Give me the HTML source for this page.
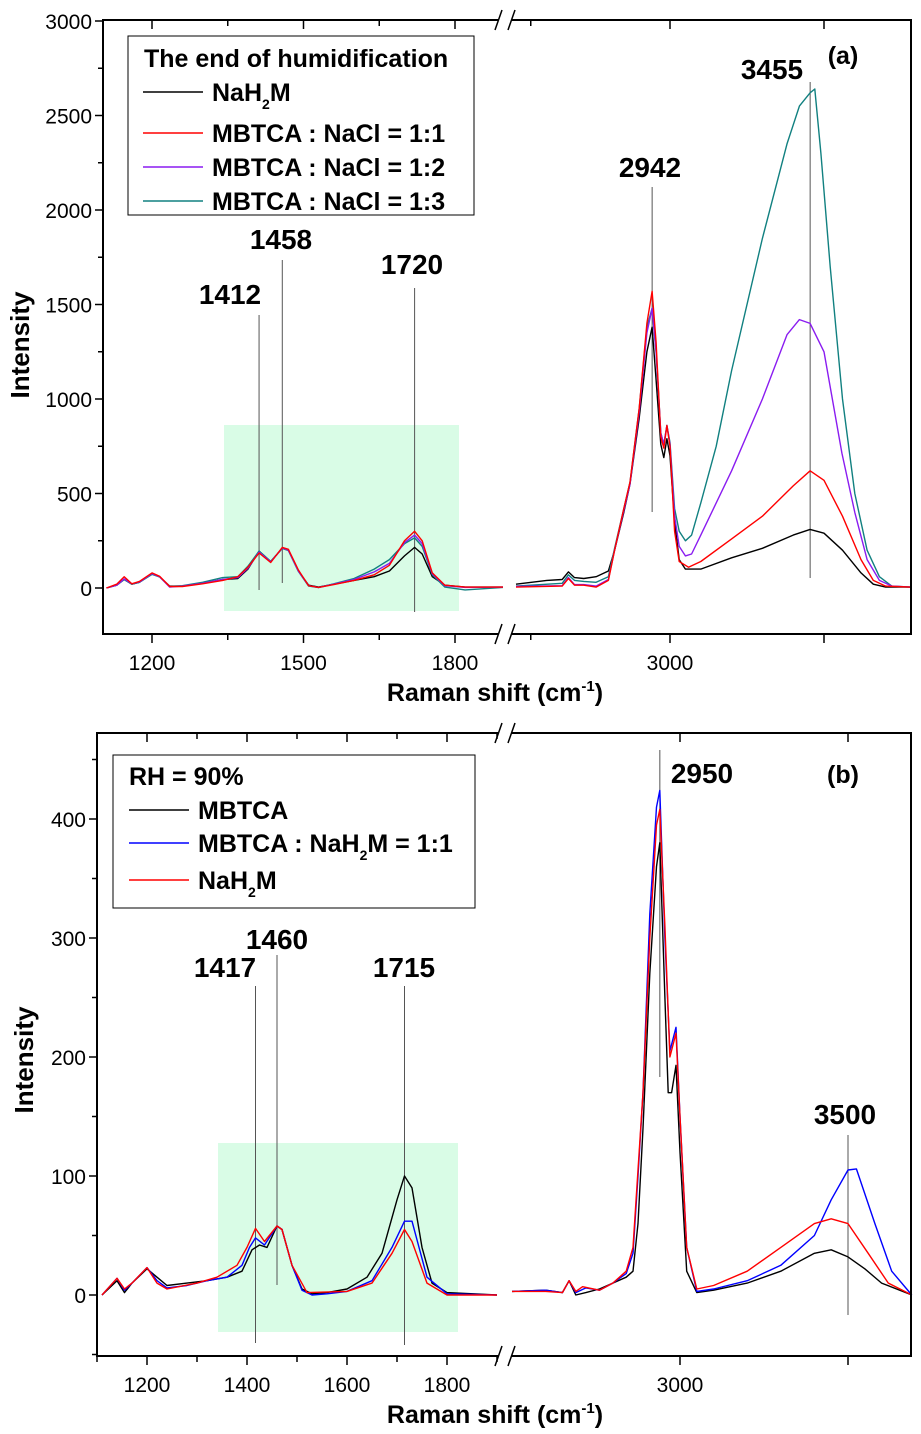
<!DOCTYPE html>
<html><head><meta charset="utf-8"><style>
body{margin:0;background:#fff;}
svg{display:block;font-family:"Liberation Sans",Arial,sans-serif;}
</style></head><body>
<svg id="fig" width="921" height="1434" viewBox="0 0 921 1434"></svg>
<script>
// ---------- Panel (a) data ----------
const aBlackL=[[1110,0],[1130,15],[1145,45],[1160,20],[1175,30],[1200,75],[1215,60],[1235,10],[1260,10],[1300,25],[1340,45],[1370,50],[1390,100],[1412,195],[1435,140],[1458,210],[1470,200],[1490,90],[1510,15],[1530,5],[1560,20],[1600,40],[1640,60],[1670,90],[1700,170],[1720,215],[1735,180],[1755,60],[1780,15],[1820,5],[1895,5]];
const aRedL=[[1110,0],[1130,20],[1145,60],[1160,22],[1175,35],[1200,80],[1215,62],[1235,8],[1260,8],[1300,22],[1340,40],[1370,60],[1390,110],[1412,185],[1435,135],[1458,215],[1470,205],[1490,95],[1510,12],[1530,3],[1560,18],[1600,40],[1640,70],[1670,120],[1700,250],[1720,300],[1735,250],[1755,80],[1780,15],[1820,5],[1895,5]];
const aPurpleL=[[1110,0],[1130,15],[1145,48],[1160,22],[1175,32],[1200,76],[1215,60],[1235,5],[1260,10],[1300,25],[1340,45],[1370,55],[1390,105],[1412,190],[1435,138],[1458,212],[1470,200],[1490,90],[1510,12],[1530,3],[1560,20],[1600,45],[1640,85],[1670,130],[1700,240],[1720,280],[1735,235],[1755,75],[1780,12],[1820,3],[1895,5]];
const aTealL=[[1110,0],[1130,15],[1145,45],[1160,20],[1175,30],[1200,72],[1215,58],[1235,8],[1260,12],[1300,30],[1340,55],[1370,60],[1390,115],[1412,195],[1435,140],[1458,210],[1470,198],[1490,88],[1510,10],[1530,2],[1560,22],[1600,50],[1640,100],[1670,150],[1700,235],[1720,265],[1735,220],[1755,70],[1780,5],[1820,-10],[1895,3]];
const aBlackR=[[2500,20],[2600,40],[2650,45],[2670,85],[2690,55],[2720,50],[2760,60],[2800,90],[2820,200],[2850,400],[2870,550],[2900,900],[2925,1250],[2942,1380],[2955,1100],[2970,760],[2980,690],[2990,790],[3000,700],[3015,350],[3030,150],[3050,100],[3100,100],[3200,160],[3300,210],[3400,280],[3455,310],[3500,290],[3560,200],[3620,80],[3660,20],[3700,5],[3780,5]];
const aRedR=[[2500,5],[2650,10],[2670,50],[2690,15],[2720,15],[2760,5],[2800,40],[2820,200],[2850,420],[2870,560],[2900,950],[2925,1400],[2942,1570],[2955,1300],[2970,800],[2980,740],[2990,860],[3000,750],[3015,300],[3030,140],[3060,110],[3100,140],[3200,260],[3300,380],[3400,540],[3455,620],[3500,570],[3560,380],[3620,150],[3660,40],[3700,10],[3780,5]];
const aPurpleR=[[2500,8],[2650,12],[2670,55],[2690,18],[2720,18],[2760,10],[2800,45],[2820,200],[2850,410],[2870,550],[2900,930],[2925,1350],[2942,1480],[2955,1250],[2970,820],[2980,760],[2990,860],[3000,760],[3015,380],[3030,220],[3050,170],[3070,180],[3100,280],[3200,620],[3300,1000],[3380,1340],[3420,1420],[3455,1400],[3500,1250],[3558,714],[3600,400],[3640,150],[3680,40],[3720,10],[3780,5]];
const aTealR=[[2500,10],[2650,25],[2670,70],[2690,40],[2720,35],[2760,30],[2800,60],[2820,210],[2850,420],[2870,560],[2900,950],[2925,1380],[2942,1480],[2955,1250],[2970,820],[2980,760],[2990,860],[3000,770],[3015,420],[3030,300],[3050,250],[3070,280],[3100,450],[3150,750],[3200,1150],[3300,1850],[3380,2350],[3420,2550],[3455,2620],[3470,2640],[3490,2300],[3520,1700],[3560,1000],[3600,500],[3640,200],[3680,60],[3720,10],[3780,5]];
const aYTicks=[0,500,1000,1500,2000,2500,3000];
const aXTicksL=[1200,1500,1800];
const aXTicksR=[3000];
// ---------- Panel (b) data ----------
const bBlackL=[[1110,0],[1140,12],[1155,2],[1170,10],[1200,22],[1220,15],[1240,8],[1280,10],[1320,12],[1360,15],[1390,20],[1410,38],[1425,42],[1440,40],[1460,58],[1470,55],[1490,25],[1510,5],[1530,1],[1560,2],[1600,5],[1640,15],[1670,35],[1700,80],[1715,100],[1730,90],[1750,40],[1770,10],[1800,2],[1900,0]];
const bBlueL=[[1110,0],[1140,14],[1155,4],[1170,10],[1200,23],[1220,12],[1240,6],[1280,8],[1320,12],[1360,15],[1390,25],[1405,40],[1417,48],[1435,42],[1460,58],[1470,55],[1490,25],[1510,4],[1530,0],[1560,1],[1600,3],[1650,12],[1690,40],[1715,62],[1730,62],[1760,15],[1800,1],[1900,0]];
const bRedL=[[1110,0],[1140,14],[1155,5],[1170,10],[1200,23],[1220,10],[1240,5],[1300,10],[1340,15],[1380,25],[1400,40],[1417,56],[1435,45],[1460,58],[1470,55],[1490,25],[1520,2],[1600,3],[1650,10],[1690,35],[1715,55],[1730,45],[1760,10],[1800,0],[1900,0]];
const bBlackR=[[2500,3],[2600,4],[2650,2],[2670,12],[2690,0],[2720,2],[2760,5],[2800,10],[2840,15],[2860,20],[2875,60],[2890,140],[2910,270],[2930,360],[2940,380],[2955,250],[2965,170],[2975,170],[2988,193],[3000,120],[3020,20],[3050,2],[3100,4],[3200,10],[3300,20],[3400,35],[3450,38],[3500,32],[3550,22],[3600,10],[3690,0]];
const bBlueR=[[2500,3],[2600,4],[2650,2],[2670,12],[2690,2],[2720,6],[2760,4],[2800,10],[2840,18],[2860,35],[2875,100],[2890,170],[2910,320],[2930,410],[2940,424],[2955,300],[2970,205],[2988,225],[3000,150],[3020,40],[3050,3],[3100,5],[3200,12],[3300,25],[3400,50],[3450,80],[3500,105],[3525,106],[3580,60],[3630,20],[3690,0]];
const bRedR=[[2500,3],[2600,3],[2650,2],[2670,12],[2690,3],[2710,7],[2760,4],[2800,10],[2840,20],[2860,40],[2875,105],[2890,170],[2910,300],[2930,395],[2940,408],[2955,310],[2970,200],[2988,220],[3000,150],[3020,40],[3050,5],[3100,8],[3200,20],[3300,40],[3400,60],[3450,64],[3500,60],[3560,35],[3620,10],[3690,0]];
const bYTicks=[0,100,200,300,400];
const bXTicksL=[1200,1400,1600,1800];
const bXTicksR=[3000];

const NS='http://www.w3.org/2000/svg';
const svg=document.getElementById('fig');
function mk(tag,attrs,parent){const e=document.createElementNS(NS,tag);for(const k in attrs)e.setAttribute(k,attrs[k]);(parent||svg).appendChild(e);return e;}
function txt(x,y,s,size,weight,anchor,parent){const t=mk('text',{x:x,y:y,'font-size':size,'font-weight':weight,'text-anchor':anchor,fill:'#000'},parent);t.textContent=s;return t;}

function panel(cfg){
  const g=mk('g',{});
  
  
  const sx=v=> v<2200 ? cfg.L0px+(v-cfg.L0)*cfg.Ls : cfg.R0px+(v-cfg.R0)*cfg.Rs;
  const sy=v=> cfg.y0px-(v)*cfg.ys;
  const hb=mk('rect',{x:cfg.box[0],y:cfg.box[1],width:cfg.box[2]-cfg.box[0],height:cfg.box[3]-cfg.box[1],fill:'#d9fce6'},g);
  
  
  cfg.refs.forEach(r=>{
    const l=mk('line',{x1:sx(r[0]),x2:sx(r[0]),y1:r[1],y2:r[2],stroke:'#555','stroke-width':1},g);
    
    
  });
  cfg.series.forEach(s=>{
    [s.L,s.R].forEach(arr=>{
      const p=mk('polyline',{points:arr.map(d=>sx(d[0]).toFixed(1)+','+sy(d[1]).toFixed(1)).join(' '),fill:'none',stroke:s.c,'stroke-width':1.4,'stroke-linejoin':'round'},g);
      
      
    });
  });
  const fr=mk('rect',{x:cfg.fx0,y:cfg.fy0,width:cfg.fx1-cfg.fx0,height:cfg.fy1-cfg.fy0,fill:'none',stroke:'#000','stroke-width':2},g);
  
  
  [cfg.fy0,cfg.fy1].forEach(yy=>{
    mk('rect',{x:cfg.brk-6,y:yy-3,width:12,height:6,fill:'#fff'},g);
    const b=mk('path',{d:`M${cfg.brk-10},${yy+10} L${cfg.brk-3},${yy-10} M${cfg.brk+3},${yy+10} L${cfg.brk+10},${yy-10}`,stroke:'#000','stroke-width':1.5,fill:'none'},g);
    
    
  });
  cfg.yt.forEach((v,i)=>{
    const y=sy(v);
    mk('line',{x1:cfg.fx0-8,x2:cfg.fx0,y1:y,y2:y,stroke:'#000','stroke-width':1.5},g);
    const t=txt(cfg.fx0-11,y+8,String(v),21,'normal','end',g);
    
    
    const ym=sy(v+cfg.yminor);
    if(ym>cfg.fy0) mk('line',{x1:cfg.fx0-5,x2:cfg.fx0,y1:ym,y2:ym,stroke:'#000','stroke-width':1.5},g);
  });
  const ym0=sy(-cfg.yminor); if(ym0<cfg.fy1) mk('line',{x1:cfg.fx0-5,x2:cfg.fx0,y1:ym0,y2:ym0,stroke:'#000','stroke-width':1.5},g);
  function xt(v,major,label){
    const x=sx(v); const len=major?9:6;
    mk('line',{x1:x,x2:x,y1:cfg.fy1,y2:cfg.fy1+len,stroke:'#000','stroke-width':1.5},g);
    mk('line',{x1:x,x2:x,y1:cfg.fy0,y2:cfg.fy0+len,stroke:'#000','stroke-width':1.5},g);
    if(label){const t=txt(x,cfg.fy1+36,String(v),21,'normal','middle',g);
      
      }
  }
  cfg.xtL.forEach(v=>{xt(v,true,true); xt(v+cfg.xminor,false,false);});
  if(cfg.xminorFirst) xt(cfg.xminorFirst,false,false);
  cfg.xtR.forEach(v=>{xt(v,true,true);});
  xt(3500,true,false);
  const yt=mk('text',{x:0,y:0,'font-size':26,'font-weight':'bold','text-anchor':'middle',transform:`translate(${cfg.ytx},${cfg.yty}) rotate(-90)`},g);
  yt.textContent='Intensity';
  
  
  const xtt=mk('text',{x:495,y:cfg.fy1+67,'font-size':25,'font-weight':'bold','text-anchor':'middle'},g);
  xtt.innerHTML='Raman shift (cm<tspan dy="-10" font-size="15">-1</tspan><tspan dy="10">)</tspan>';
  
  
  cfg.plabels.forEach(p=>{const t=txt(p[1],p[2],p[0],28,'bold','middle',g);
    
    });
  const lg=mk('g',{},g);
  
  
  mk('rect',{x:cfg.leg[0],y:cfg.leg[1],width:cfg.leg[2]-cfg.leg[0],height:cfg.leg[3]-cfg.leg[1],fill:'#fff',stroke:'#000','stroke-width':1},lg);
  txt(cfg.legTitle[1],cfg.legTitle[2],cfg.legTitle[0],cfg.legTitle[3],'bold','start',lg);
  cfg.legItems.forEach(it=>{
    const e=mk('g',{},lg);
    
    
    mk('line',{x1:cfg.legLine[0],x2:cfg.legLine[1],y1:it[2]-9,y2:it[2]-9,stroke:it[1],'stroke-width':1.5},e);
    const t=mk('text',{x:cfg.legLine[1]+9,y:it[2],'font-size':25,'font-weight':'bold'},e);
    t.innerHTML=it[0];
  });
  txt(cfg.tag[1],cfg.tag[2],cfg.tag[0],25,'bold','middle',g);
}

panel({name:'panel-a',L0:1100,L0px:101.5,Ls:0.505,R0:3000,R0px:670,Rs:0.308,y0px:588,ys:0.189,
  fx0:103,fx1:911,fy0:20,fy1:634,brk:505,box:[224,425,459,611],
  refs:[[1412,315,590],[1458,260,583],[1720,288,612],[2942,187,512],[3455,82,578]],
  series:[{n:'nah2m',c:'#000',L:aBlackL,R:aBlackR},{n:'ratio-1-3',c:'#118080',L:aTealL,R:aTealR},{n:'ratio-1-2',c:'#8a1cf0',L:aPurpleL,R:aPurpleR},{n:'ratio-1-1',c:'#f00',L:aRedL,R:aRedR}],
  yt:aYTicks,yminor:250,xtL:aXTicksL,xminor:150,xminorFirst:null,xtR:aXTicksR,
  ytx:29,yty:345,
  plabels:[['1412',230,304],['1458',281,249],['1720',412,274],['2942',650,177],['3455',772,79]],
  leg:[128,36,474,215],legTitle:['The end of humidification',144,67,25],legLine:[143,203],
  legItems:[['NaH<tspan dy="8" font-size="14">2</tspan><tspan dy="-8">M</tspan>','#000',101],['MBTCA : NaCl = 1:1','#f00',142],['MBTCA : NaCl = 1:2','#8a1cf0',176],['MBTCA : NaCl = 1:3','#118080',210]],
  tag:['(a)',843,64]});

panel({name:'panel-b',L0:1100,L0px:97,Ls:0.5,R0:3000,R0px:680,Rs:0.336,y0px:1295,ys:1.19,
  fx0:97,fx1:911,fy0:733,fy1:1356,brk:505,box:[218,1143,458,1332],
  refs:[[1417,986,1343],[1460,955,1285],[1715,986,1345],[2940,750,1077],[3500,1135,1315]],
  series:[{n:'mbtca',c:'#000',L:bBlackL,R:bBlackR},{n:'mbtca-nah2m',c:'#00f',L:bBlueL,R:bBlueR},{n:'nah2m',c:'#f00',L:bRedL,R:bRedR}],
  yt:bYTicks,yminor:50,xtL:bXTicksL,xminor:100,xminorFirst:1100,xtR:bXTicksR,
  ytx:33,yty:1060,
  plabels:[['1417',225,977],['1460',277,949],['1715',404,977],['2950',702,783],['3500',845,1124]],
  leg:[113,755,475,908],legTitle:['RH = 90%',129,785,25],legLine:[129,189],
  legItems:[['MBTCA','#000',819],['MBTCA : NaH<tspan dy="8" font-size="14">2</tspan><tspan dy="-8">M = 1:1</tspan>','#00f',852],['NaH<tspan dy="8" font-size="14">2</tspan><tspan dy="-8">M</tspan>','#f00',889]],
  tag:['(b)',843,783]});
</script>
</body></html>
